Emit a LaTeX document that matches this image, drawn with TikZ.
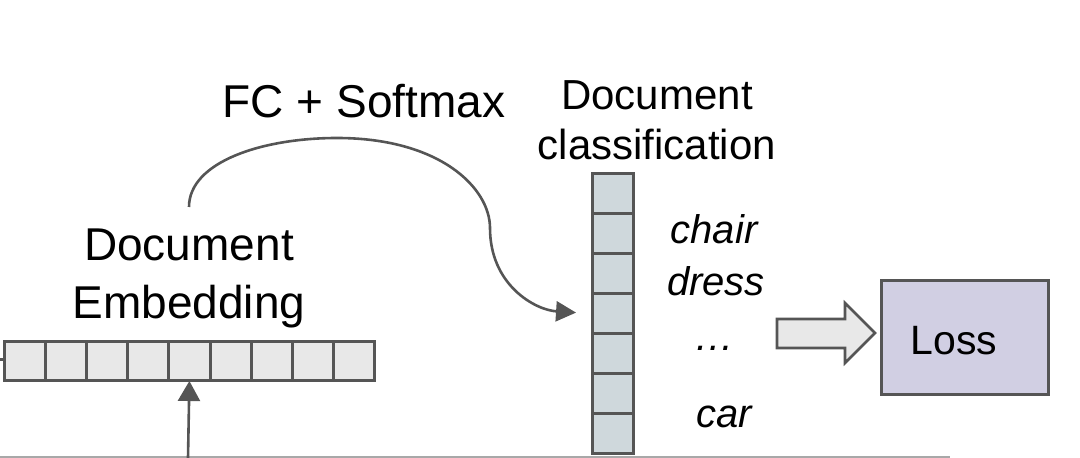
\documentclass[tikz,border=0pt]{standalone}
\usepackage{fontspec}
\setmainfont{Liberation Sans}
\usetikzlibrary{arrows.meta}
\definecolor{edge}{HTML}{555555}
\definecolor{embfill}{HTML}{E8E8E8}
\definecolor{colfill}{HTML}{CFD8DC}
\definecolor{lossfill}{HTML}{D1CFE3}
\definecolor{rule}{HTML}{A8A8A8}
\tikzset{
  x=0.5pt, y=-0.5pt,
  embcell/.style={draw=edge, line width=1.5pt, fill=embfill, minimum width=20.6pt, minimum height=19.5pt, inner sep=0pt, outer sep=0pt},
  colcell/.style={draw=edge, line width=1.5pt, fill=colfill, minimum width=20.5pt, minimum height=19.95pt, inner sep=0pt, outer sep=0pt},
  lbl/.style={font=\fontsize{23pt}{28pt}\selectfont, align=center, inner sep=0pt},
  clbl/.style={font=\fontsize{21pt}{24pt}\selectfont, align=center, inner sep=0pt},
  ilbl/.style={font=\fontsize{20pt}{24pt}\selectfont\itshape, inner sep=0pt},
  conn/.style={draw=edge, line width=1.3pt},
}
\begin{document}
\begin{tikzpicture}
\useasboundingbox (0,0) rectangle (1080,458);
% bottom rule and left stub
\draw[rule, line width=1pt] (0,457) -- (950,457);
\draw[edge, line width=1.5pt] (0,360) -- (4,360);
% embedding cells
\foreach \i in {0,...,8} {
  \node[embcell] (e\i) at ({4+20.6+\i*41.2},361.5) {};
}
% column cells
\foreach \i in {0,...,6} {
  \node[colcell] (c\i) at (612.5,{174+19.95+\i*39.9}) {};
}
% labels
\node[lbl] (fc) at (364,101) {FC + Softmax};
\node[clbl] (dc) at (657,120) {Document\\[1pt]classification};
\node[lbl] (de) at (189,278) {Document\\[1pt]Embedding};
\node[ilbl] (chair) at (714,229) {chair};
\node[ilbl] (dress) at (716,281) {dress};
\node[ilbl] (dots) at (714,348) {\ldots};
\node[ilbl] (car) at (724,417) {car};
% loss box
\node[draw=edge, line width=1.5pt, fill=lossfill, minimum width=83.5pt, minimum height=57pt, inner sep=0pt, outer sep=0pt] (loss) at (964.5,338) {};
\node[font=\fontsize{20.5pt}{24pt}\selectfont, inner sep=0pt] (losstxt) at (954,341) {Loss};
% block arrow
\draw[edge, line width=1.3pt, fill=embfill, line join=miter]
  (777,319) -- (845,319) -- (845,303) -- (875,333) -- (845,363) -- (845,348) -- (777,348) -- cycle;
% up arrow
\coordinate (bot) at (188,458);
\draw[conn, -{Triangle[width=11pt,length=10pt]}] (bot) -- (e4.south);
% curved arrow
\coordinate (start) at (189,207);
\draw[conn, shorten >=8pt, -{Triangle[width=10pt,length=10pt]}]
  (start) .. controls (189,162) and (262,138) .. (337,138)
  .. controls (440,138) and (490,188) .. (490,228)
  .. controls (490,285) and (535,310) .. (c3.west);
\end{tikzpicture}
\end{document}
